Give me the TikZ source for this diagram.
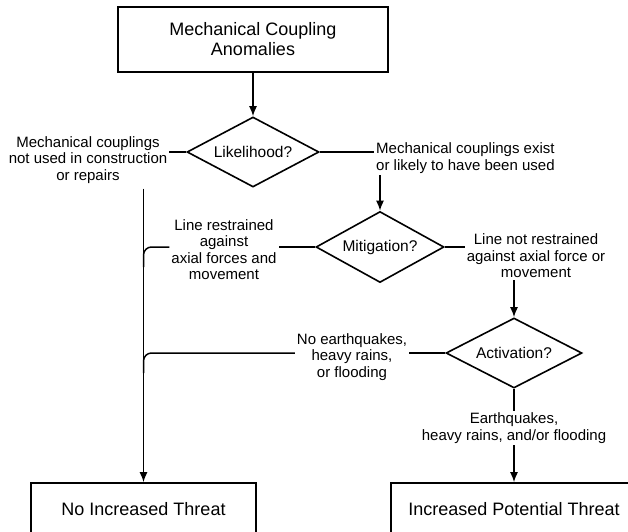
\documentclass[tikz,border=0pt]{standalone}
\usepackage{fontspec}
\setmainfont{Liberation Sans}
\usetikzlibrary{shapes.geometric, arrows.meta}

\begin{document}
\begin{tikzpicture}[x=1pt, y=-1pt, >={Latex[length=10pt,width=8pt]},
  box/.style={draw, line width=1.6pt, font=\fontsize{18}{20}\selectfont, align=center, inner sep=0pt},
  question/.style={draw, diamond, aspect=2, line width=1.6pt, inner sep=0pt, font=\fontsize{15.5}{17}\selectfont},
  answer/.style={font=\fontsize{15}{16.5}\selectfont, inner sep=2pt},
  flow/.style={line width=1.5pt}]

\useasboundingbox (0,0) rectangle (628,531);
\clip (0,0) rectangle (628,531);

% boxes and questions
\node[box, minimum width=270pt, minimum height=65pt] (anomalies) at (253,39.5) {Mechanical Coupling\\Anomalies};
\node[question, minimum width=132pt, minimum height=70pt] (likely) at (253,152) {Likelihood?};
\node[question, minimum width=128pt, minimum height=71pt] (mitig) at (380,247) {Mitigation?};
\node[question, minimum width=136pt, minimum height=70pt] (activ) at (514,353) {Activation?};
\node[box, minimum width=225pt, minimum height=52pt] (noThreat) at (143.5,509) {No Increased Threat};
\node[box, minimum width=246pt, minimum height=52pt] (threat) at (514,509) {Increased Potential Threat};

% answers
\node[answer, align=center] (notUsed) at (88,160) {Mechanical couplings\\not used in construction\\or repairs};
\node[answer, align=left, anchor=west] (exist) at (374,158) {Mechanical couplings exist\\or likely to have been used};
\node[answer, align=center] (restrained) at (224,249.5) {Line restrained\\against\\axial forces and\\movement};
\node[answer, align=center] (notRestrained) at (536,256) {Line not restrained\\against axial force or\\movement};
\node[answer, align=center] (noQuake) at (352,357) {No earthquakes,\\heavy rains,\\or flooding};
\node[answer, align=center] (quake) at (514,428) {Earthquakes,\\heavy rains, and/or flooding};

\draw[flow,->] (anomalies) -- (likely);
\draw[flow] (likely.west) -- (likely.west -| notUsed.east);
\draw[flow] (likely.east) -- (likely.east -| exist.west);
\draw[flow,->] (exist.south -| mitig.north) -- (mitig.north);
\draw[flow,->] ([yshift=-3pt]notUsed.south -| noThreat.north) -- (noThreat.north);

\draw[flow] (mitig.west) -- (mitig.west -| restrained.east);
\draw[flow, rounded corners=8pt] (mitig.west -| restrained.west) -| ([yshift=-20pt]mitig.west -| noThreat.north);
\draw[flow] (mitig.east) -- (mitig.east -| notRestrained.west);
\draw[flow,->] (notRestrained.south -| activ.north) -- (activ.north);

\draw[flow] (activ.west) -- (activ.west -| noQuake.east);
\draw[flow, rounded corners=8pt] (activ.west -| noQuake.west) -| ([yshift=-20pt]activ.west -| noThreat.north);
\draw[flow] (activ.south) -- (quake.north);
\draw[flow,->] (quake.south) -- (threat.north);

\end{tikzpicture}
\end{document}
